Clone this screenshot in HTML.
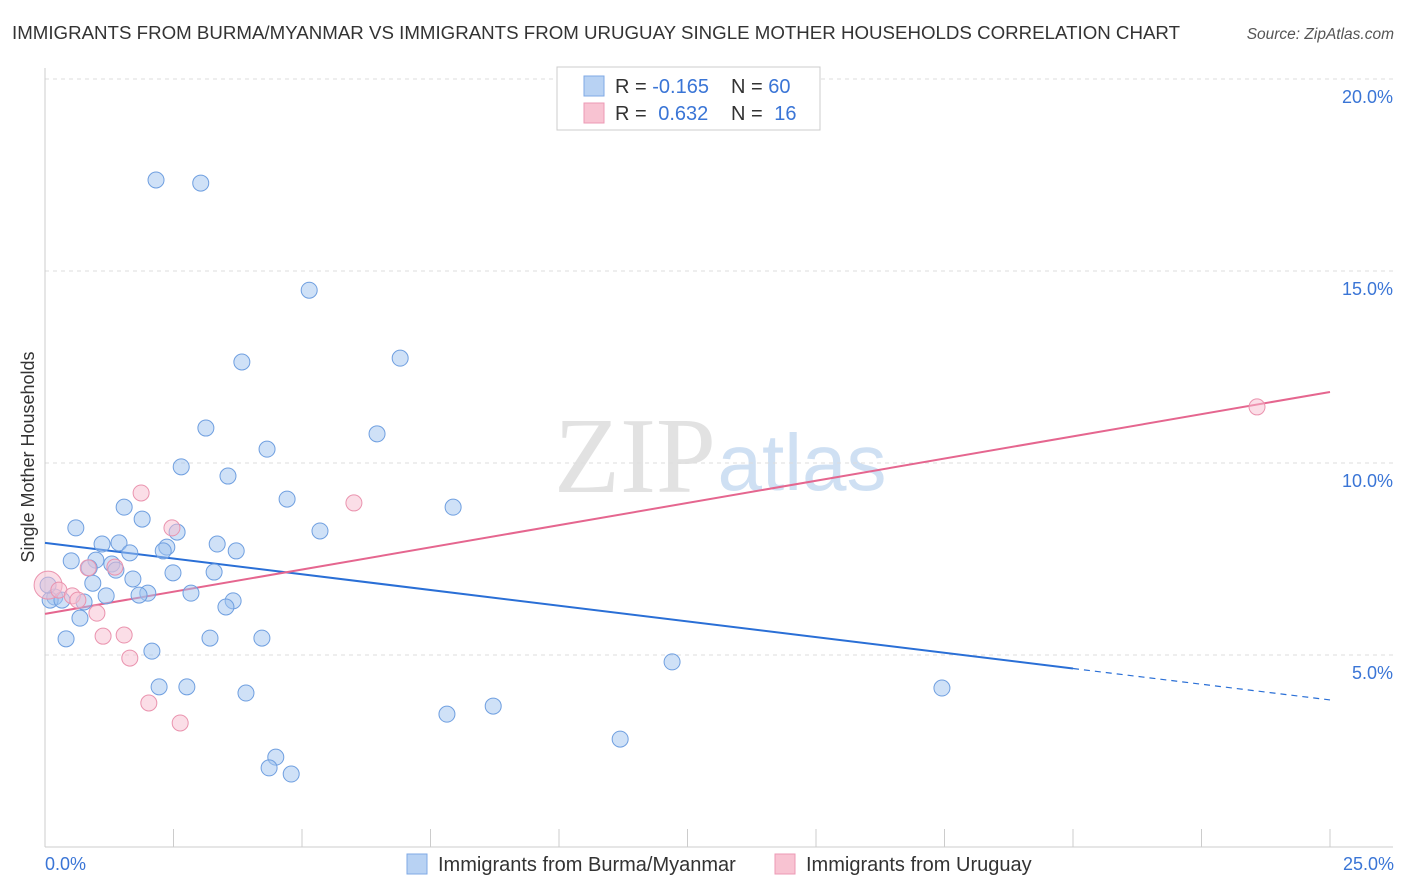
<!DOCTYPE html>
<html><head><meta charset="utf-8">
<style>
body{margin:0;background:#fff;font-family:"Liberation Sans",sans-serif;}
svg{display:block}
</style></head>
<body>
<svg id="chart" width="1406" height="892">
<text x="12" y="39" font-size="18.6" fill="#333" textLength="1168" lengthAdjust="spacingAndGlyphs">IMMIGRANTS FROM BURMA/MYANMAR VS IMMIGRANTS FROM URUGUAY SINGLE MOTHER HOUSEHOLDS CORRELATION CHART</text>
<text x="1394" y="39" font-size="15.5" fill="#555" font-style="italic" text-anchor="end">Source: ZipAtlas.com</text>
<g>
<text x="635" y="492" font-size="108" font-family="Liberation Serif,serif" fill="#e2e2e2" text-anchor="middle">ZIP</text>
<text x="802" y="490" font-size="80" fill="#cfe0f3" text-anchor="middle">atlas</text>
</g>
<g id="grid"></g>
<g id="axes"></g>
<g id="lines"></g>
<g id="points"></g>
<g>
<rect x="557" y="67" width="263" height="63" fill="#fff" stroke="#ccc"/>
<rect x="584" y="76" width="20" height="20" fill="#b8d2f3" stroke="#7fa9e6"/>
<rect x="584" y="103" width="20" height="20" fill="#f8c3d2" stroke="#ec9ab4"/>
<text x="615" y="93" font-size="20" fill="#333">R = <tspan fill="#3a75d6">-0.165</tspan></text>
<text x="731" y="93" font-size="20" fill="#333">N = <tspan fill="#3a75d6">60</tspan></text>
<text x="615" y="120" font-size="20" fill="#333">R =  <tspan fill="#3a75d6" dx="6">0.632</tspan></text>
<text x="731" y="120" font-size="20" fill="#333">N =  <tspan fill="#3a75d6" dx="6">16</tspan></text>
</g>
<g>
<rect x="407" y="854" width="20" height="20" fill="#b8d2f3" stroke="#7fa9e6"/>
<text x="438" y="871" font-size="20" fill="#333">Immigrants from Burma/Myanmar</text>
<rect x="775" y="854" width="20" height="20" fill="#f8c3d2" stroke="#ec9ab4"/>
<text x="806" y="871" font-size="20" fill="#333">Immigrants from Uruguay</text>
</g>
<text transform="translate(34,457) rotate(-90)" font-size="18" fill="#333" text-anchor="middle">Single Mother Households</text>
<text x="45" y="870" font-size="18" fill="#3a75d6">0.0%</text>
<text x="1394" y="870" font-size="18" fill="#3a75d6" text-anchor="end">25.0%</text>
</svg>
<script>
const yTicks=[5,10,15,20];
const yTickLabels=["5.0%","10.0%","15.0%","20.0%"];
const xTicks=[0,2.5,5,7.5,10,12.5,15,17.5,20,22.5,25];
const burmaX=[2.16,3.03,5.14,3.83,6.91,3.13,6.46,4.32,2.65,3.56,4.71,7.94,1.54,1.89,0.60,5.35,2.57,2.37,2.30,3.35,3.72,1.11,1.44,1.65,0.51,0.99,1.30,1.38,0.86,2.49,3.29,1.71,0.93,2.00,1.83,2.84,1.19,0.19,0.10,0.33,0.76,3.66,3.52,0.68,0.41,3.21,4.22,2.08,12.20,2.22,2.76,3.91,17.45,7.82,8.72,11.19,4.49,4.36,4.79,0.06];
const burmaY=[17.37,17.29,14.50,12.63,12.73,10.91,10.76,10.36,9.90,9.66,9.06,8.85,8.85,8.54,8.31,8.23,8.20,7.81,7.71,7.89,7.71,7.89,7.92,7.66,7.45,7.47,7.37,7.21,7.27,7.14,7.16,6.98,6.87,6.61,6.56,6.61,6.54,6.51,6.43,6.43,6.38,6.41,6.25,5.96,5.42,5.44,5.44,5.10,4.82,4.17,4.17,4.01,4.14,3.46,3.67,2.81,2.34,2.06,1.90,6.82];
const uruX=[0.06,1.87,2.47,6.01,0.84,1.36,0.27,0.53,0.64,1.01,1.13,1.54,1.65,2.02,2.63,23.58];
const uruY=[6.82,9.22,8.31,8.96,7.27,7.29,6.69,6.54,6.43,6.09,5.49,5.52,4.92,3.75,3.23,11.46];
const burmaTrend=[7.92,3.83];
const uruTrend=[6.07,11.85];
const NS='http://www.w3.org/2000/svg';
const X0=45,X1=1330,Y0=847,PXY=38.4;
const sx=v=>X0+(v/25)*(X1-X0);
const sy=v=>Y0-v*PXY;
function mk(t,a,p){const e=document.createElementNS(NS,t);for(const k in a)e.setAttribute(k,a[k]);p.appendChild(e);return e;}
const grid=document.getElementById('grid'),axes=document.getElementById('axes'),lines=document.getElementById('lines'),pts=document.getElementById('points');
yTicks.forEach((v,i)=>{
 const l=mk('line',{x1:X0,x2:1393,y1:sy(v),y2:sy(v),stroke:'#ddd','stroke-dasharray':'4,4'},grid);
 
 
 const t=mk('text',{x:1393,y:sy(v)+24,'font-size':18,fill:'#3a75d6','text-anchor':'end'},grid);
 t.textContent=yTickLabels[i];
 
 
});
const ax=mk('line',{x1:X0,x2:1393,y1:Y0,y2:Y0,stroke:'#ccc'},axes);


const ay=mk('line',{x1:X0,x2:X0,y1:68,y2:Y0,stroke:'#ccc'},axes);


xTicks.forEach(v=>{
 const t=mk('line',{x1:sx(v),x2:sx(v),y1:Y0,y2:Y0-18,stroke:'#ccc'},axes);
 
 
});
function pt(x,y,fill,stroke,r,name){
 const c=mk('circle',{cx:sx(x),cy:sy(y),r:r,fill:fill,stroke:stroke,'stroke-width':1},pts);
 
 
}
burmaX.forEach((x,i)=>pt(x,burmaY[i],'rgba(160,196,240,0.5)','#6f9fe0',8,'point-burma'));
uruX.forEach((x,i)=>pt(x,uruY[i],'rgba(248,190,208,0.5)','#ea93ae',i===0?14:8,'point-uruguay'));
const by=x=>burmaTrend[0]+(burmaTrend[1]-burmaTrend[0])*x/25;
const b1=mk('line',{x1:sx(0),y1:sy(by(0)),x2:sx(20),y2:sy(by(20)),stroke:'#2a6fd6','stroke-width':2},lines);


const b2=mk('line',{x1:sx(20),y1:sy(by(20)),x2:sx(25),y2:sy(by(25)),stroke:'#2a6fd6','stroke-width':1.2,'stroke-dasharray':'6,5'},lines);


const u1=mk('line',{x1:sx(0),y1:sy(uruTrend[0]),x2:sx(25),y2:sy(uruTrend[1]),stroke:'#e5668f','stroke-width':2},lines);


</script>
</body></html>
